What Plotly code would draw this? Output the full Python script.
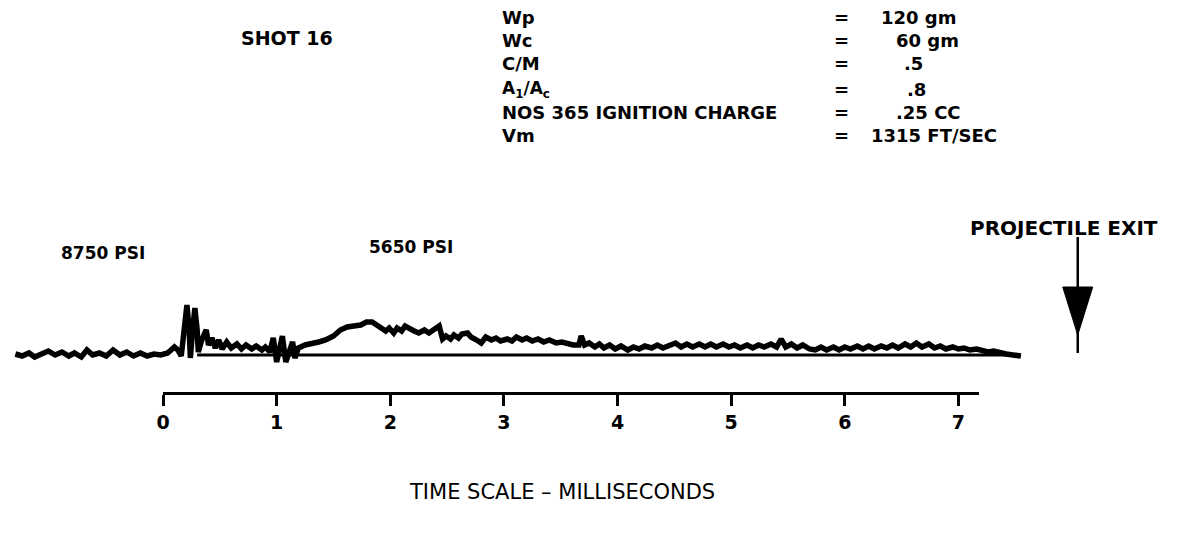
import plotly.graph_objects as go

# ---- data (time in ms, pressure in psi) ----
time_ms = [-1.30, -1.24, -1.18, -1.13, -1.07, -1.01, -0.95, -0.89, -0.83, -0.78,
           -0.72, -0.67, -0.62, -0.56, -0.50, -0.44, -0.38, -0.32, -0.26, -0.20,
           -0.14, -0.08, -0.02, 0.04, 0.10, 0.13, 0.16, 0.18, 0.21, 0.23,
           0.24, 0.26, 0.28, 0.30, 0.31, 0.34, 0.38, 0.40, 0.43, 0.46,
           0.49, 0.52, 0.56, 0.60, 0.65, 0.69, 0.73, 0.78, 0.82, 0.87,
           0.90, 0.94, 0.97, 1.00, 1.02, 1.05, 1.08, 1.11, 1.14, 1.16,
           1.19, 1.25, 1.31, 1.37, 1.43, 1.50, 1.56, 1.62, 1.68, 1.74,
           1.79, 1.84, 1.88, 1.92, 1.96, 1.99, 2.03, 2.06, 2.10, 2.13,
           2.17, 2.21, 2.25, 2.30, 2.34, 2.39, 2.43, 2.46, 2.49, 2.53,
           2.56, 2.60, 2.63, 2.68, 2.71, 2.76, 2.80, 2.84, 2.89, 2.93,
           2.97, 3.03, 3.07, 3.11, 3.16, 3.20, 3.25, 3.30, 3.35, 3.40,
           3.46, 3.51, 3.56, 3.61, 3.66, 3.68, 3.71, 3.75, 3.80, 3.84,
           3.88, 3.93, 3.98, 4.03, 4.09, 4.14, 4.19, 4.24, 4.30, 4.35,
           4.40, 4.45, 4.51, 4.56, 4.61, 4.66, 4.72, 4.77, 4.82, 4.87,
           4.93, 4.98, 5.03, 5.08, 5.14, 5.19, 5.24, 5.29, 5.35, 5.40,
           5.44, 5.48, 5.53, 5.58, 5.63, 5.69, 5.74, 5.79, 5.84, 5.90,
           5.95, 6.00, 6.05, 6.11, 6.16, 6.21, 6.26, 6.32, 6.37, 6.42,
           6.47, 6.53, 6.58, 6.63, 6.68, 6.74, 6.79, 6.84, 6.89, 6.95,
           7.00, 7.05, 7.10, 7.16, 7.21, 7.26, 7.31, 7.37, 7.42, 7.48,
           7.55]
pressure_psi = [175, -175, 350, -350, 175, 700, 0, 525, -175, 350,
                -350, 875, 0, 350, -175, 875, 0, 525, -175, 350,
                -175, 175, 0, 350, 1400, 875, -175, 4375, 8750, 4375,
                -525, 4375, 8225, 4375, 525, 2625, 4375, 1750, 2975, 1225,
                2625, 1050, 2275, 1225, 1925, 1050, 1750, 1050, 1575, 875,
                1400, 525, 2975, -1225, 875, 3325, -1225, 525, 2275, -525,
                1225, 1750, 1925, 2275, 2625, 3325, 4375, 4900, 5075, 5250,
                5775, 5775, 5250, 4725, 4200, 4725, 3850, 4725, 4200, 5075,
                4550, 4200, 3850, 4375, 3850, 4550, 5075, 2800, 3325, 2800,
                3500, 2975, 3675, 3850, 3150, 2625, 2100, 3150, 2625, 2975,
                2450, 2800, 2450, 3150, 2625, 2975, 2450, 2800, 2275, 2625,
                2100, 2275, 1925, 1750, 1750, 3325, 1750, 2100, 1400, 1925,
                1225, 1750, 1050, 1575, 875, 1400, 1050, 1575, 1225, 1750,
                1225, 1575, 2100, 1400, 1925, 1400, 1925, 1400, 1925, 1400,
                1925, 1400, 1750, 1225, 1750, 1225, 1750, 1400, 1925, 1400,
                2800, 1400, 1925, 1225, 1750, 1050, 875, 1400, 875, 1400,
                875, 1400, 1050, 1575, 1050, 1575, 1050, 1575, 1225, 1750,
                1225, 1925, 1400, 2100, 1400, 1925, 1225, 1575, 1050, 1400,
                1050, 1225, 875, 1050, 700, 525, 700, 350, 175, 0,
                -175]
baseline_time = [0.30, 7.55]
baseline_psi = [0, 0]

scale_ticks = [0, 1, 2, 3, 4, 5, 6, 7]
scale_labels = ["0", "1", "2", "3", "4", "5", "6", "7"]
exit_time_ms = 8.05

peak_labels = ["8750 PSI", "5650 PSI"]
param_names = ["Wp", "Wc", "C/M", "A<sub>1</sub>/A<sub>c</sub>",
               "NOS 365 IGNITION CHARGE", "Vm"]
param_values = ["120 gm", "60 gm", ".5", ".8", ".25 CC", "1315 FT/SEC"]

# ---- layout helpers (pixel -> paper) ----
W, H = 1180, 537
def px(x):
    return x / W
def py(y):
    return 1 - y / H

FONT = "DejaVu Sans"

fig = go.Figure()

# baseline
fig.add_trace(go.Scatter(x=baseline_time, y=baseline_psi, mode="lines",
                         line=dict(color="black", width=3),
                         showlegend=False, hoverinfo="skip"))
# pressure trace
fig.add_trace(go.Scatter(x=time_ms, y=pressure_psi, mode="lines",
                         line=dict(color="black", width=5.5),
                         showlegend=False, hoverinfo="skip"))
# dummy trace to activate the time-scale ruler axis
fig.add_trace(go.Scatter(x=[0], y=[None], xaxis="x2", mode="markers",
                         showlegend=False, hoverinfo="skip"))

x0 = -157 / 114.3
x1 = (W - 157) / 114.3
fig.update_layout(
    width=W, height=H,
    margin=dict(l=0, r=0, t=0, b=0),
    paper_bgcolor="white", plot_bgcolor="rgba(0,0,0,0)",
    font=dict(family=FONT, color="black"),
    xaxis=dict(range=[x0, x1], visible=False, domain=[0, 1]),
    yaxis=dict(range=[(355 - H) * 175, 355 * 175], visible=False, domain=[0, 1]),
    xaxis2=dict(range=[0, (978 - 157) / 114.3],
                domain=[px(157), px(978)],
                anchor="free", position=py(393),
                showline=True, linecolor="black", linewidth=3,
                ticks="outside", ticklen=11, tickwidth=3, tickcolor="black",
                tickvals=scale_ticks, ticktext=scale_labels,
                tickfont=dict(size=19, family=FONT, color="black", weight="bold"),
                showgrid=False, zeroline=False, fixedrange=True),
)

# exit arrow: shaft and head
fig.add_shape(type="line", xref="x", yref="y",
              x0=exit_time_ms, x1=exit_time_ms,
              y0=(355 - 237) * 175, y1=(355 - 353) * 175,
              line=dict(color="black", width=2.5))
fig.add_shape(type="path", xref="x", yref="y",
              xsizemode="pixel", ysizemode="pixel",
              xanchor=exit_time_ms, yanchor=(355 - 310) * 175,
              path="M -15,23 L 15,23 L 0,-25 Z",
              fillcolor="black", line=dict(color="black", width=1))

def txt(x, y, s, size=19, xanchor="left", weight="bold"):
    fig.add_annotation(x=px(x), y=py(y), xref="paper", yref="paper",
                       text=s, showarrow=False, xanchor=xanchor, yanchor="middle",
                       font=dict(size=size, family=FONT, color="black", weight=weight))

txt(233, 38, "SHOT 16", 19)
rows_y = [17, 41, 63, 89, 113, 136]
row_size = [18, 18, 18, 17, 18, 18]
val_x = [877, 892, 900, 903, 892, 867]
for yy, sz, name, val, vx in zip(rows_y, row_size, param_names, param_values, val_x):
    txt(496, yy, name, sz)
    txt(839, yy, "=", 18, "center")
    txt(vx, yy, val, 18)

txt(52, 253, peak_labels[0], 17)
txt(362, 247, peak_labels[1], 17)
txt(967, 228, "PROJECTILE EXIT", 20)
txt(558, 492, "TIME SCALE \u2013 MILLISECONDS", 21, "center", "normal")

fig.write_html("out.html", config={"displayModeBar": False},
               post_script="document.body.style.margin='0';")
